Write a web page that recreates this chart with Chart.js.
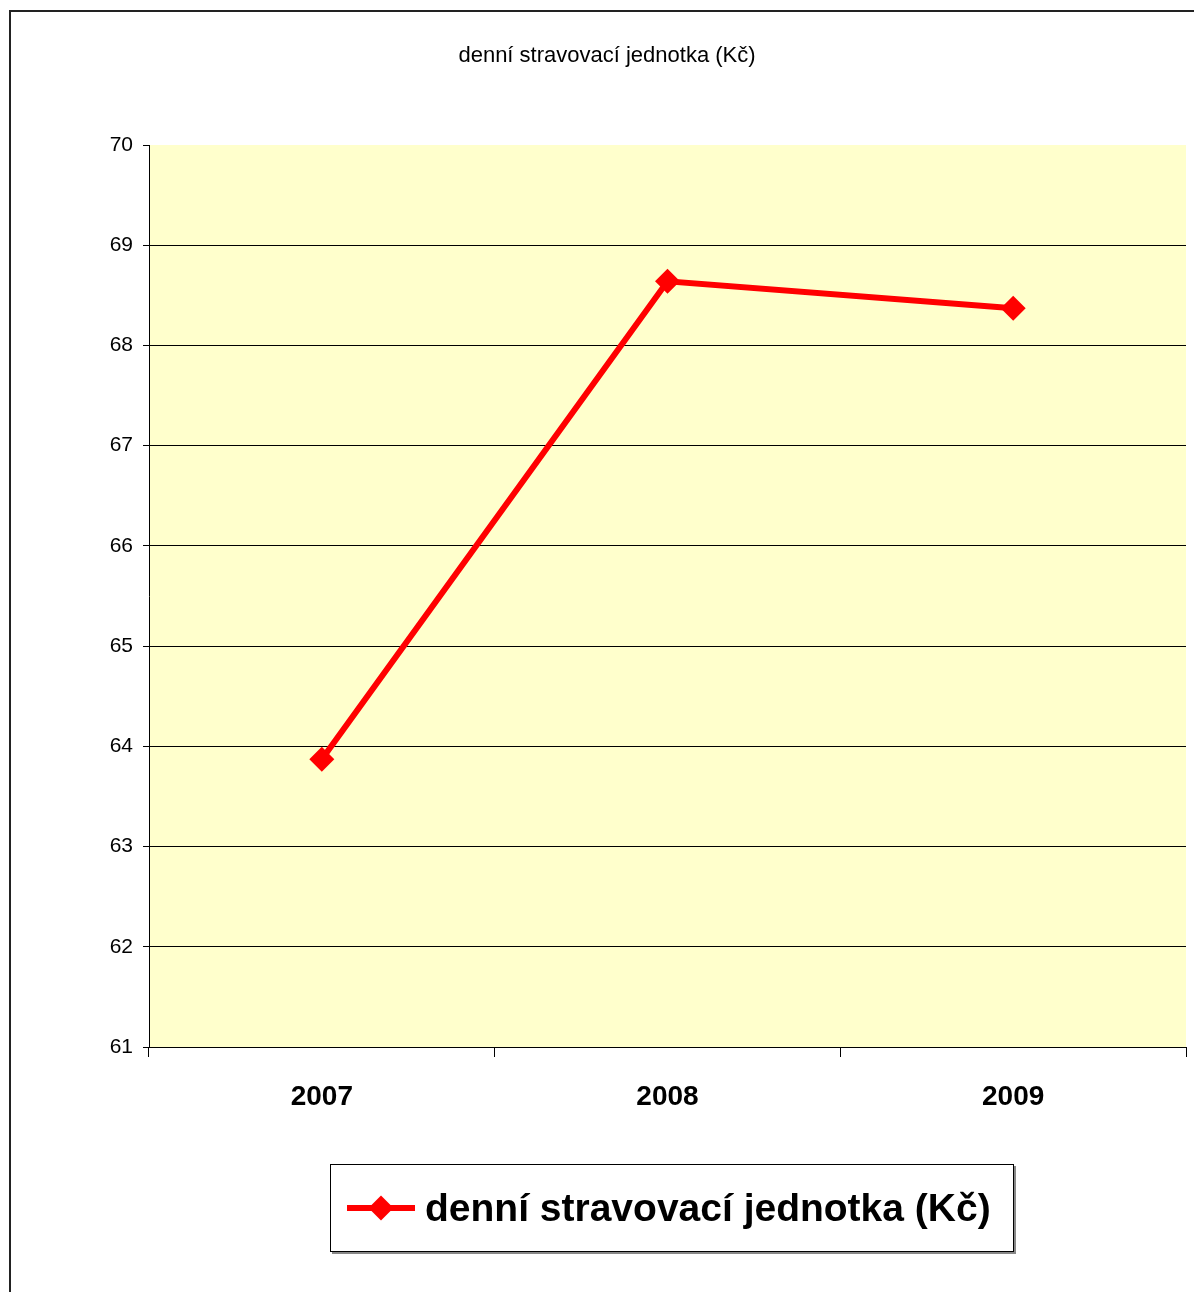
<!DOCTYPE html>
<html>
<head>
<meta charset="utf-8">
<script src="https://cdn.jsdelivr.net/npm/chart.js@4/dist/chart.umd.min.js"></script>
<style>
  html, body { margin: 0; padding: 0; background: #fff; overflow: hidden; }
  #frame { position: absolute; left: 9px; top: 10px; width: 1300px; height: 1400px; border: 2px solid #222; }
  #graf { position: absolute; left: 0; top: 0; }
</style>
</head>
<body>
<div id="frame"></div>
<canvas id="graf" width="1194" height="1292"></canvas>
<script>
// data grafu
const roky = ['2007', '2008', '2009'];
const jednotka = [63.87, 68.64, 68.37];
const nazevRady = 'denní stravovací jednotka (Kč)';
const yMin = 61;
const yMax = 70;

Chart.defaults.font.family = 'Arial, "Liberation Sans", sans-serif';
Chart.defaults.color = '#000';

// zluta plocha grafu
const pozadi = {
  id: 'pozadi',
  beforeDraw(chart) {
    const a = chart.chartArea;
    const ctx = chart.ctx;
    ctx.save();
    ctx.fillStyle = '#FFFFCC';
    ctx.fillRect(a.left, a.top, a.right - a.left, a.bottom - a.top);
    ctx.restore();
  }
};

// nadpis a legenda kreslene rucne
const popisky = {
  id: 'popisky',
  afterDraw(chart) {
    const ctx = chart.ctx;
    const ds = chart.data.datasets[0];
    ctx.save();
    ctx.fillStyle = '#000';
    ctx.textAlign = 'center';
    ctx.textBaseline = 'middle';
    ctx.font = '22px Arial, "Liberation Sans", sans-serif';
    ctx.fillText(ds.label, 607, 56);

    // ramecek legendy se stinem
    ctx.fillStyle = '#888';
    ctx.fillRect(332, 1166, 684, 88);
    ctx.fillStyle = '#fff';
    ctx.fillRect(330, 1164, 684, 88);
    ctx.strokeStyle = '#000';
    ctx.lineWidth = 1;
    ctx.strokeRect(330.5, 1164.5, 683, 87);

    ctx.strokeStyle = ds.borderColor;
    ctx.lineWidth = ds.borderWidth;
    ctx.beginPath();
    ctx.moveTo(347, 1208);
    ctx.lineTo(415, 1208);
    ctx.stroke();
    const r = ds.pointRadius;
    ctx.fillStyle = ds.pointBackgroundColor;
    ctx.beginPath();
    ctx.moveTo(381 - r, 1208);
    ctx.lineTo(381, 1208 - r);
    ctx.lineTo(381 + r, 1208);
    ctx.lineTo(381, 1208 + r);
    ctx.closePath();
    ctx.fill();

    ctx.fillStyle = '#000';
    ctx.textAlign = 'left';
    ctx.font = 'bold 39px Arial, "Liberation Sans", sans-serif';
    ctx.fillText(ds.label, 425, 1210);
    ctx.restore();
  }
};

new Chart(document.getElementById('graf'), {
  type: 'line',
  data: {
    labels: roky,
    datasets: [{
      label: nazevRady,
      data: jednotka,
      borderColor: '#FF0000',
      borderWidth: 6,
      pointStyle: 'rectRot',
      pointRadius: 12.5,
      pointHoverRadius: 12.5,
      pointBackgroundColor: '#FF0000',
      pointBorderWidth: 0,
      tension: 0
    }]
  },
  options: {
    responsive: false,
    animation: false,
    layout: {
      autoPadding: false,
      padding: { top: 145, right: 8, left: 0, bottom: 0 }
    },
    plugins: {
      legend: { display: false },
      title: { display: false },
      tooltip: { enabled: false }
    },
    scales: {
      x: {
        offset: true,
        grid: {
          offset: true,
          drawOnChartArea: false,
          tickLength: 10,
          tickColor: '#000'
        },
        border: { color: '#000', width: 1 },
        ticks: {
          font: { size: 28, weight: 'bold' },
          padding: 23
        },
        afterFit(s) {
          s.height = 245;
          s.paddingLeft = 0;
          s.paddingRight = 0;
        }
      },
      y: {
        min: yMin,
        max: yMax,
        grid: {
          color: c => (c.tick && c.tick.value === yMax) ? 'rgba(0,0,0,0)' : '#000',
          tickColor: '#000',
          tickLength: 6,
          lineWidth: 1
        },
        border: { color: '#000', width: 1 },
        ticks: {
          stepSize: 1,
          font: { size: 21 },
          padding: 10
        },
        afterFit(s) { s.width = 149; }
      }
    }
  },
  plugins: [pozadi, popisky]
});
</script>
</body>
</html>
